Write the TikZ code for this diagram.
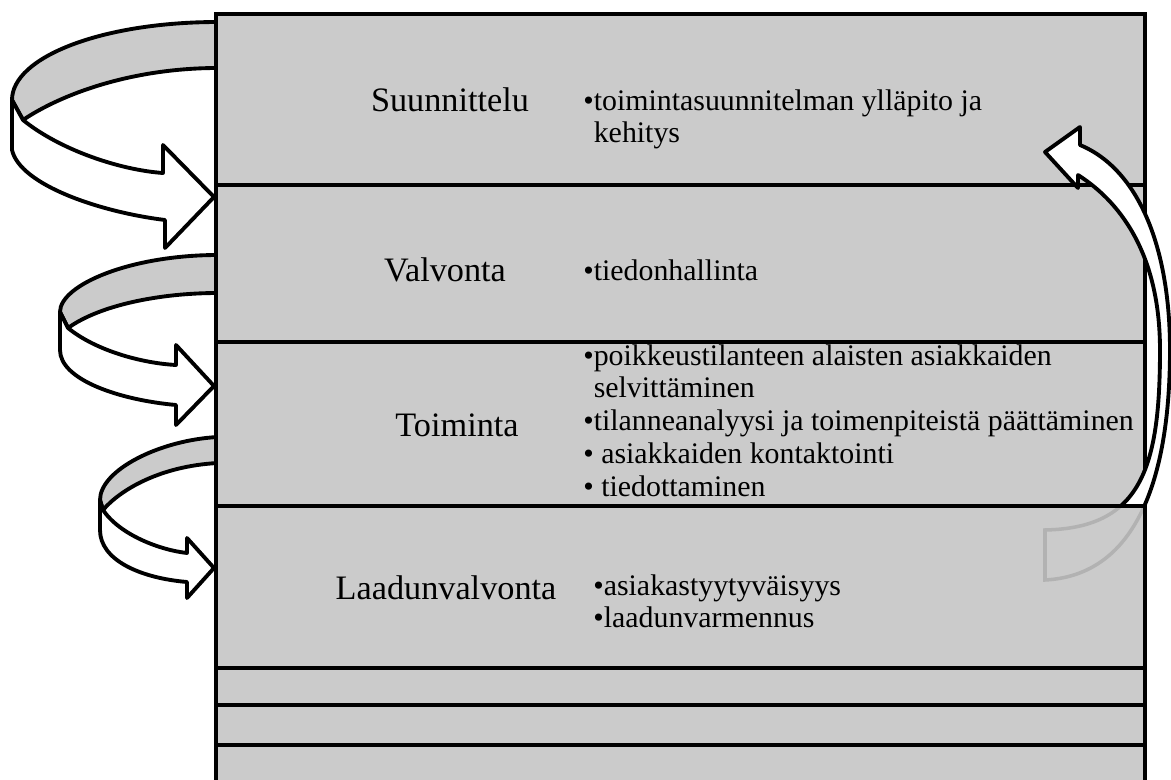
\documentclass[tikz,border=0pt]{standalone}
\usepackage{fontspec}
\setmainfont{Liberation Serif}
\usepackage{tikz}
\usetikzlibrary{calc}

\definecolor{boxgray}{HTML}{CBCBCB}
\definecolor{tailgray}{HTML}{B2B2B2}

\tikzset{
  rowbox/.style={draw=black, line width=2.6pt, fill=boxgray},
  ribbon/.style={draw=black, line width=2.2pt, line join=round},
  phase/.style={font=\fontsize{19.5}{23}\selectfont, inner sep=0pt},
  items/.style={font=\fontsize{17}{18.7}\selectfont, align=left,
                anchor=north west, inner sep=0pt}
}

\begin{document}
\begin{tikzpicture}[x=0.02cm, y=-0.02cm]

    \useasboundingbox (0,0) rectangle (1171,780);
    \clip (0,0) rectangle (1171,780);

    % arrows on the left, behind the boxes
    \draw[ribbon, fill=boxgray] (218,22) .. controls (102,22) and (12,57) .. (12,100)
        -- (23,120) .. controls (60,95) and (130,68) .. (218,68) -- cycle;
    \draw[ribbon, fill=white] (23,120) .. controls (60,150) and (120,170) .. (163,173)
        -- (163,145) -- (214,197) -- (165,248) -- (165,220)
        .. controls (100,212) and (20,185) .. (12,150) -- (12,100) -- cycle;

    \draw[ribbon, fill=boxgray] (218,255) .. controls (130,255) and (60,285) .. (60,312)
        -- (68,328) .. controls (100,305) and (160,293) .. (218,293) -- cycle;
    \draw[ribbon, fill=white] (68,328) .. controls (95,350) and (140,363) .. (176,365)
        -- (176,345) -- (214,386) -- (176,425) -- (176,405)
        .. controls (120,400) and (60,380) .. (60,350) -- (60,312) -- cycle;

    \draw[ribbon, fill=boxgray] (218,437) .. controls (160,440) and (100,470) .. (100,500)
        -- (103,510) .. controls (120,490) and (160,466) .. (218,463) -- cycle;
    \draw[ribbon, fill=white] (103,510) .. controls (120,535) and (160,550) .. (187,553)
        -- (187,538) -- (214,568) -- (187,598) -- (187,582)
        .. controls (140,578) and (100,560) .. (100,530) -- (100,500) -- cycle;

    % the stacked boxes
    \draw[rowbox] (216,14)  rectangle (1145,185);
    \draw[rowbox] (216,185) rectangle (1145,342);
    \draw[rowbox] (216,342) rectangle (1145,506);
    \draw[rowbox] (216,506) rectangle (1145,668);
    \draw[rowbox] (216,668) rectangle (1145,705);
    \draw[rowbox] (216,705) rectangle (1145,745);
    \draw[rowbox] (216,745) rectangle (1145,800);

    % return arrow: faint part behind the last box
    \begin{scope}
        \clip (216,506) rectangle (1145,668);
        \draw[draw=tailgray, line width=2pt]
            (1078,175) -- (1078,188) -- (1045,152) -- (1080,127) -- (1080,145)
            .. controls (1140,170) and (1170,250) .. (1170,350)
            .. controls (1170,460) and (1145,575) .. (1045,580) -- (1045,530)
            .. controls (1140,528) and (1160,470) .. (1160,350)
            .. controls (1160,260) and (1125,205) .. (1078,175) -- cycle;
    \end{scope}
    \begin{scope}
        \clip (0,0) -- (1171,0) -- (1171,780) -- (1145,780) -- (1145,506) -- (0,506) -- cycle;
        \draw[ribbon, fill=white]
            (1078,175) -- (1078,188) -- (1045,152) -- (1080,127) -- (1080,145)
            .. controls (1140,170) and (1170,250) .. (1170,350)
            .. controls (1170,460) and (1145,575) .. (1045,580) -- (1045,530)
            .. controls (1140,528) and (1160,470) .. (1160,350)
            .. controls (1160,260) and (1125,205) .. (1078,175) -- cycle;
    \end{scope}
    \draw[draw=black, line width=2.6pt] (216,506) rectangle (1145,668);

    \node[phase] (suunnittelu) at (450,100) {Suunnittelu};
    \node[phase] (valvonta) at (445,270) {Valvonta};
    \node[phase] (toiminta) at (457,425) {Toiminta};
    \node[phase] (laadunvalvonta) at (446,588) {Laadunvalvonta};

    \node[items] (suunnittelu-items) at (583,89)
        {•toimintasuunnitelman ylläpito ja\\\phantom{•}kehitys};
    \node[items] (valvonta-items) at (583,259) {•tiedonhallinta};
    \node[items] (toiminta-items) at (583,344)
        {•poikkeustilanteen alaisten asiakkaiden\\\phantom{•}selvittäminen\\
         •tilanneanalyysi ja toimenpiteistä päättäminen\\
         • asiakkaiden kontaktointi\\
         • tiedottaminen};
    \node[items] (laadunvalvonta-items) at (593,574)
        {•asiakastyytyväisyys\\•laadunvarmennus};

\end{tikzpicture}
\end{document}
